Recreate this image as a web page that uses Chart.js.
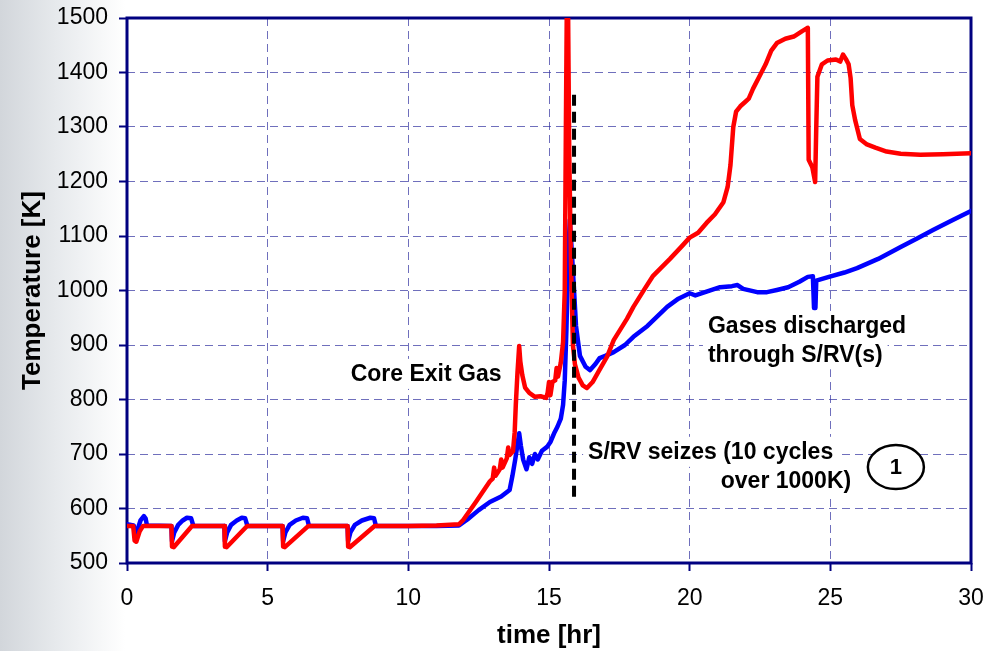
<!DOCTYPE html>
<html>
<head>
<meta charset="utf-8">
<script src="https://cdn.jsdelivr.net/npm/chart.js@4.4.1/dist/chart.umd.min.js"></script>
<style>
  html, body { margin: 0; padding: 0; }
  body {
    width: 988px; height: 651px; overflow: hidden;
    background: linear-gradient(to right, #d2d6db 0px, #e6e9ec 55px, #ffffff 125px);
  }
  #wrap { position: relative; width: 988px; height: 651px; }
</style>
</head>
<body>
<div id="wrap"><canvas id="chartTemp"></canvas></div>
<script>
// Core exit gas temperature (red)
const redTime = [0, 0.22, 0.27, 0.33, 0.45, 0.57,
  1.58, 1.6, 1.66, 2.31, 3.46, 3.48, 3.54, 4.27, 5.53, 5.55, 5.61, 6.45, 7.84, 7.86, 7.92, 8.8,
  10, 11, 11.8, 11.95, 12.4, 12.9, 13.0, 13.05, 13.1, 13.25, 13.3, 13.35, 13.5, 13.55, 13.6, 13.72,
  13.78, 13.82, 13.88, 13.94, 13.98, 14.05, 14.15, 14.3, 14.5, 14.7, 14.9, 14.95, 15.0, 15.05, 15.12,
  15.22, 15.27, 15.32, 15.42, 15.5, 15.56, 15.6, 15.63, 15.68, 15.72, 15.78, 15.85, 15.92, 16.05, 16.2,
  16.35, 16.55, 16.8, 17.06, 17.3, 17.77, 18.0, 18.4, 18.7, 19.3, 19.7, 20.0, 20.3, 20.6, 20.9, 21.2,
  21.35, 21.45, 21.55, 21.65, 21.8, 21.95, 22.1, 22.25, 22.5, 22.7, 22.9, 23.1, 23.4, 23.7, 24.0, 24.2,
  24.23, 24.36, 24.46, 24.5, 24.54, 24.7, 24.9, 25.2, 25.35, 25.45, 25.55, 25.65, 25.72, 25.78, 25.88,
  26.05, 26.3, 26.6, 27.0, 27.5, 28.2, 29.0, 30];
const redTemp = [568, 568, 541, 539, 558, 568,
  568, 530, 529, 568, 568, 530, 529, 568, 568, 530, 529, 568, 568, 530, 529, 568,
  568, 569, 571, 579, 612, 650, 655, 675, 660, 672, 690, 675, 692, 712, 698, 705,
  740, 790, 850, 898, 870, 845, 822, 812, 805, 806, 803, 812, 832, 808, 832,
  835, 858, 842, 868, 905, 1000, 1300, 1500, 1500, 1250, 1050, 900, 865, 840, 826,
  821, 832, 855, 878, 909, 948, 970, 1003, 1027, 1058, 1080, 1097, 1106, 1124, 1140, 1162,
  1190, 1230, 1300, 1328, 1338, 1345, 1352, 1370, 1395, 1415, 1440, 1454, 1462, 1466, 1476, 1482,
  1240, 1226, 1199, 1300, 1392, 1415, 1422, 1424, 1420, 1433, 1425, 1415, 1390, 1340, 1313,
  1278, 1268, 1262, 1255, 1251, 1249, 1250, 1252];

// Second temperature trace (blue)
const blueTime = [0, 0.24, 0.29, 0.38, 0.48, 0.6, 0.66, 0.71,
  1.58, 1.6, 1.68, 1.82, 1.98, 2.13, 2.28, 2.36,
  3.46, 3.48, 3.56, 3.7, 3.9, 4.08, 4.2, 4.28,
  5.53, 5.55, 5.63, 5.78, 6.0, 6.25, 6.4, 6.47,
  7.84, 7.86, 7.94, 8.1, 8.35, 8.65, 8.78, 8.85,
  10, 11, 11.8, 12.1, 12.5, 12.9, 13.3, 13.6, 13.7, 13.8, 13.94, 14.0, 14.08, 14.2, 14.3, 14.4,
  14.5, 14.6, 14.75, 14.93, 15.05, 15.2, 15.3, 15.42, 15.5, 15.56, 15.62, 15.68, 15.74, 15.8, 15.88,
  15.96, 16.1, 16.3, 16.46, 16.65, 16.8, 17.0, 17.3, 17.7, 18.0, 18.5, 19.2, 19.6, 20.0, 20.2, 20.6,
  21.08, 21.5, 21.7, 21.9, 22.4, 22.75, 23.1, 23.5, 23.9, 24.2, 24.38, 24.42, 24.47, 24.5, 24.95,
  25.5, 25.95, 26.7, 27.5, 28.1, 28.65, 29.3, 30];
const blueTemp = [571, 569, 546, 562, 578, 586, 582, 569,
  568, 540, 556, 570, 578, 583, 582, 568,
  568, 540, 556, 570, 578, 583, 582, 568,
  568, 540, 556, 570, 578, 583, 582, 568,
  568, 540, 556, 570, 578, 583, 582, 568,
  568, 568, 569, 580, 597, 612, 622, 634, 660, 690, 738, 715, 690, 672, 694, 682,
  700, 690, 706, 713, 722, 740, 750, 765, 790, 835, 930, 1060, 1130, 1080, 1010,
  935, 880, 860, 854, 865, 876, 880, 887, 900, 915, 935, 970, 985, 995, 991, 998,
  1006, 1008, 1010, 1003, 997, 997, 1001, 1006, 1016, 1025, 1026, 968, 968, 1018, 1025,
  1033, 1041, 1058, 1080, 1096, 1111, 1128, 1146];

// S/RV seizure marker
const seizeTime = [15.89, 15.89];
const seizeTemp = [1359, 616];

// Axis ticks
const timeTicks = [0, 5, 10, 15, 20, 25, 30];
const tempTicks = [500, 600, 700, 800, 900, 1000, 1100, 1200, 1300, 1400, 1500];

// Text notes inside the plot (anchored in data units)
const noteText = ['Core Exit Gas', 'Gases discharged', 'through S/RV(s)', 'S/RV seizes (10 cycles', 'over 1000K)'];
const noteTime = [10.63, 20.65, 20.65, 16.39, 25.74];
const noteTemp = [847, 935, 883, 704, 652];
const noteAlign = ['center', 'left', 'left', 'left', 'right'];
const circleLabel = '1';
const circleTime = 27.33;
const circleTemp = 676;

const toPoints = (xs, ys) => xs.map((x, i) => ({ x: x, y: ys[i] }));

const FONT = "'Liberation Sans', Arial, Helvetica, sans-serif";
const NAVY = '#000080';
const GRID = 'rgba(50, 50, 160, 0.7)';

// no extra room for overhanging tick labels
const noOverhang = (scale) => {
  scale.paddingTop = 0;
  scale.paddingBottom = 0;
  scale.paddingLeft = 0;
  scale.paddingRight = 0;
};

// White plot area
const plotBackground = {
  id: 'plotBackground',
  beforeDraw(chart) {
    const { ctx, chartArea: a } = chart;
    ctx.save();
    ctx.fillStyle = '#ffffff';
    ctx.fillRect(a.left, a.top, a.right - a.left, a.bottom - a.top);
    ctx.restore();
  }
};

// Notes, circled number and frame, drawn above the grid and below the lines
const notesAndFrame = {
  id: 'notesAndFrame',
  beforeDatasetsDraw(chart) {
    const { ctx, chartArea: a, scales } = chart;
    ctx.save();
    ctx.font = 'bold 23px ' + FONT;
    ctx.textBaseline = 'middle';
    noteText.forEach((txt, i) => {
      const px = scales.x.getPixelForValue(noteTime[i]);
      const py = scales.y.getPixelForValue(noteTemp[i]);
      const w = ctx.measureText(txt).width;
      let left = px;
      if (noteAlign[i] === 'center') left = px - w / 2;
      if (noteAlign[i] === 'right') left = px - w;
      ctx.fillStyle = '#ffffff';
      ctx.fillRect(left - 5, py - 15, w + 10, 30);
      ctx.fillStyle = '#000000';
      ctx.textAlign = 'left';
      ctx.fillText(txt, left, py + 1);
    });

    // circled "1"
    const cx = scales.x.getPixelForValue(circleTime);
    const cy = scales.y.getPixelForValue(circleTemp);
    ctx.beginPath();
    ctx.ellipse(cx, cy, 28, 22, 0, 0, Math.PI * 2);
    ctx.fillStyle = '#ffffff';
    ctx.fill();
    ctx.lineWidth = 2.5;
    ctx.strokeStyle = '#000000';
    ctx.stroke();
    ctx.fillStyle = '#000000';
    ctx.textAlign = 'center';
    ctx.font = 'bold 22px ' + FONT;
    ctx.fillText(circleLabel, cx, cy + 1);

    // plot frame
    ctx.lineWidth = 3;
    ctx.strokeStyle = NAVY;
    ctx.strokeRect(a.left, a.top, a.right - a.left, a.bottom - a.top);
    ctx.restore();
  }
};

const ctx = document.getElementById('chartTemp').getContext('2d');

const chartTemp = new Chart(ctx, {
  type: 'line',
  data: {
    datasets: [{
      label: 'S/RV seizes',
      data: toPoints(seizeTime, seizeTemp),
      borderColor: '#000000',
      borderWidth: 4,
      borderDash: [11, 6],
      pointRadius: 0
    }, {
      label: 'Core Exit Gas',
      data: toPoints(redTime, redTemp),
      borderColor: '#ff0000',
      borderWidth: 4.5,
      borderJoinStyle: 'round',
      borderCapStyle: 'round',
      pointRadius: 0,
      tension: 0
    }, {
      label: 'Gas',
      data: toPoints(blueTime, blueTemp),
      borderColor: '#0000ff',
      borderWidth: 4.5,
      borderJoinStyle: 'round',
      borderCapStyle: 'round',
      pointRadius: 0,
      tension: 0
    }]
  },
  options: {
    responsive: true,
    maintainAspectRatio: false,
    animation: false,
    layout: { padding: { top: 18, right: 17, left: 0, bottom: 0 } },
    plugins: {
      legend: { display: false },
      tooltip: { enabled: false }
    },
    scales: {
      x: {
        type: 'linear',
        min: timeTicks[0],
        max: timeTicks[timeTicks.length - 1],
        afterBuildTicks(scale) { scale.ticks = timeTicks.map(v => ({ value: v })); },
        afterFit(scale) { scale.height = 88; noOverhang(scale); },
        border: { display: false, dash: [8, 5] },
        grid: {
          color: GRID,
          lineWidth: 1,
          drawTicks: true,
          tickLength: 8,
          tickColor: NAVY,
          tickWidth: 2,
          tickBorderDash: []
        },
        ticks: {
          color: '#000000',
          padding: 14,
          maxRotation: 0,
          callback: (v) => String(v),
          font: { family: FONT, size: 23 }
        },
        title: {
          display: true,
          text: 'time [hr]',
          color: '#000000',
          padding: { top: 0, bottom: 0 },
          font: { family: FONT, size: 26, weight: 'bold' }
        }
      },
      y: {
        min: tempTicks[0],
        max: tempTicks[tempTicks.length - 1],
        afterBuildTicks(scale) { scale.ticks = tempTicks.map(v => ({ value: v })); },
        afterFit(scale) { scale.width = 127; noOverhang(scale); },
        border: { display: false, dash: [8, 5] },
        grid: {
          color: GRID,
          lineWidth: 1,
          drawTicks: true,
          tickLength: 8,
          tickColor: NAVY,
          tickWidth: 2,
          tickBorderDash: []
        },
        ticks: {
          color: '#000000',
          padding: 11,
          callback: (v) => String(v),
          font: { family: FONT, size: 23 }
        },
        title: {
          display: true,
          text: 'Temperature [K]',
          color: '#000000',
          padding: { top: 17, bottom: 0 },
          font: { family: FONT, size: 26, weight: 'bold' }
        }
      }
    }
  },
  plugins: [plotBackground, notesAndFrame]
});
</script>
</body>
</html>
